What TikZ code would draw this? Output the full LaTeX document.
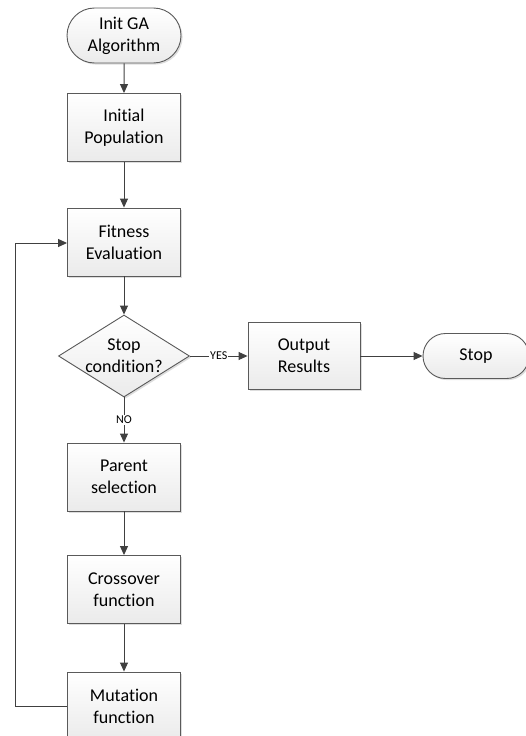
\documentclass[tikz,border=0pt]{standalone}
\usepackage{fontspec}
\setmainfont{Carlito}[RawFeature={-liga}]
\usetikzlibrary{arrows.meta,shapes.geometric,shapes.misc,shadows}

\definecolor{edge}{HTML}{404040}
\definecolor{frame}{HTML}{5A5A5A}

\tikzset{
  base/.style={draw=frame, line width=0.9pt, top color=white, bottom color=black!8,
    inner sep=0pt, align=center, font=\fontsize{18}{22}\selectfont,
    drop shadow={shadow xshift=1.6pt, shadow yshift=-1.6pt, opacity=0.22, fill=black!60}},
  process/.style={base, rectangle, minimum width=113pt, minimum height=68pt},
  terminal/.style={base, rounded rectangle, minimum width=114pt, minimum height=55pt},
  decision/.style={base, diamond, minimum width=131pt, minimum height=82pt},
  txt/.style={align=center, inner sep=0pt, font=\fontsize{18}{22}\selectfont},
  flow/.style={draw=edge, line width=1pt, -{Triangle[length=9pt,width=8pt]}},
  tag/.style={fill=white, inner sep=1pt, font=\fontsize{12}{14}\selectfont}
}

\begin{document}
\begin{tikzpicture}[x=1pt, y=1pt]
  \useasboundingbox (0,0) rectangle (525,-736);

  % main column of the flowchart
  \node[terminal] (init) at (124,-35.5) {Init GA\\Algorithm};
  \node[process] (pop) at (124,-127.5) {Initial\\Population};
  \node[process] (fit) at (124,-242) {Fitness\\Evaluation};
  \node[decision] (cond) at (124,-356) {};
  \node[txt] (condtxt) at (cond) {Stop\\condition?};
  \node[process] (par) at (124,-477) {Parent\\selection};
  \node[process] (cro) at (124,-589.5) {Crossover\\function};
  \node[process] (mut) at (124,-706) {Mutation\\function};

  % exit branch
  \node[process, minimum width=112pt, minimum height=67pt] (out) at (304,-356) {Output\\Results};
  \node[terminal, minimum width=106pt, minimum height=45pt] (stop) at (476,-356) {Stop};

  % loop corner
  \coordinate (lb) at (15,-706);
  \coordinate (lt) at (15,-243);

  \draw[flow] (init) -- (pop);
  \draw[flow] (pop) -- (fit);
  \draw[flow] (fit) -- (cond);
  \draw[flow] (cond.east) -- node[tag] {YES} (out.west);
  \draw[flow] (out) -- (stop);
  \draw[flow] (cond.south) -- node[tag, pos=0.5] {NO} (par.north);
  \draw[flow] (par) -- (cro);
  \draw[flow] (cro) -- (mut);
  \draw[flow] (mut.west) -- (lb) -- (lt) -- (fit.west |- lt);
\end{tikzpicture}
\end{document}
